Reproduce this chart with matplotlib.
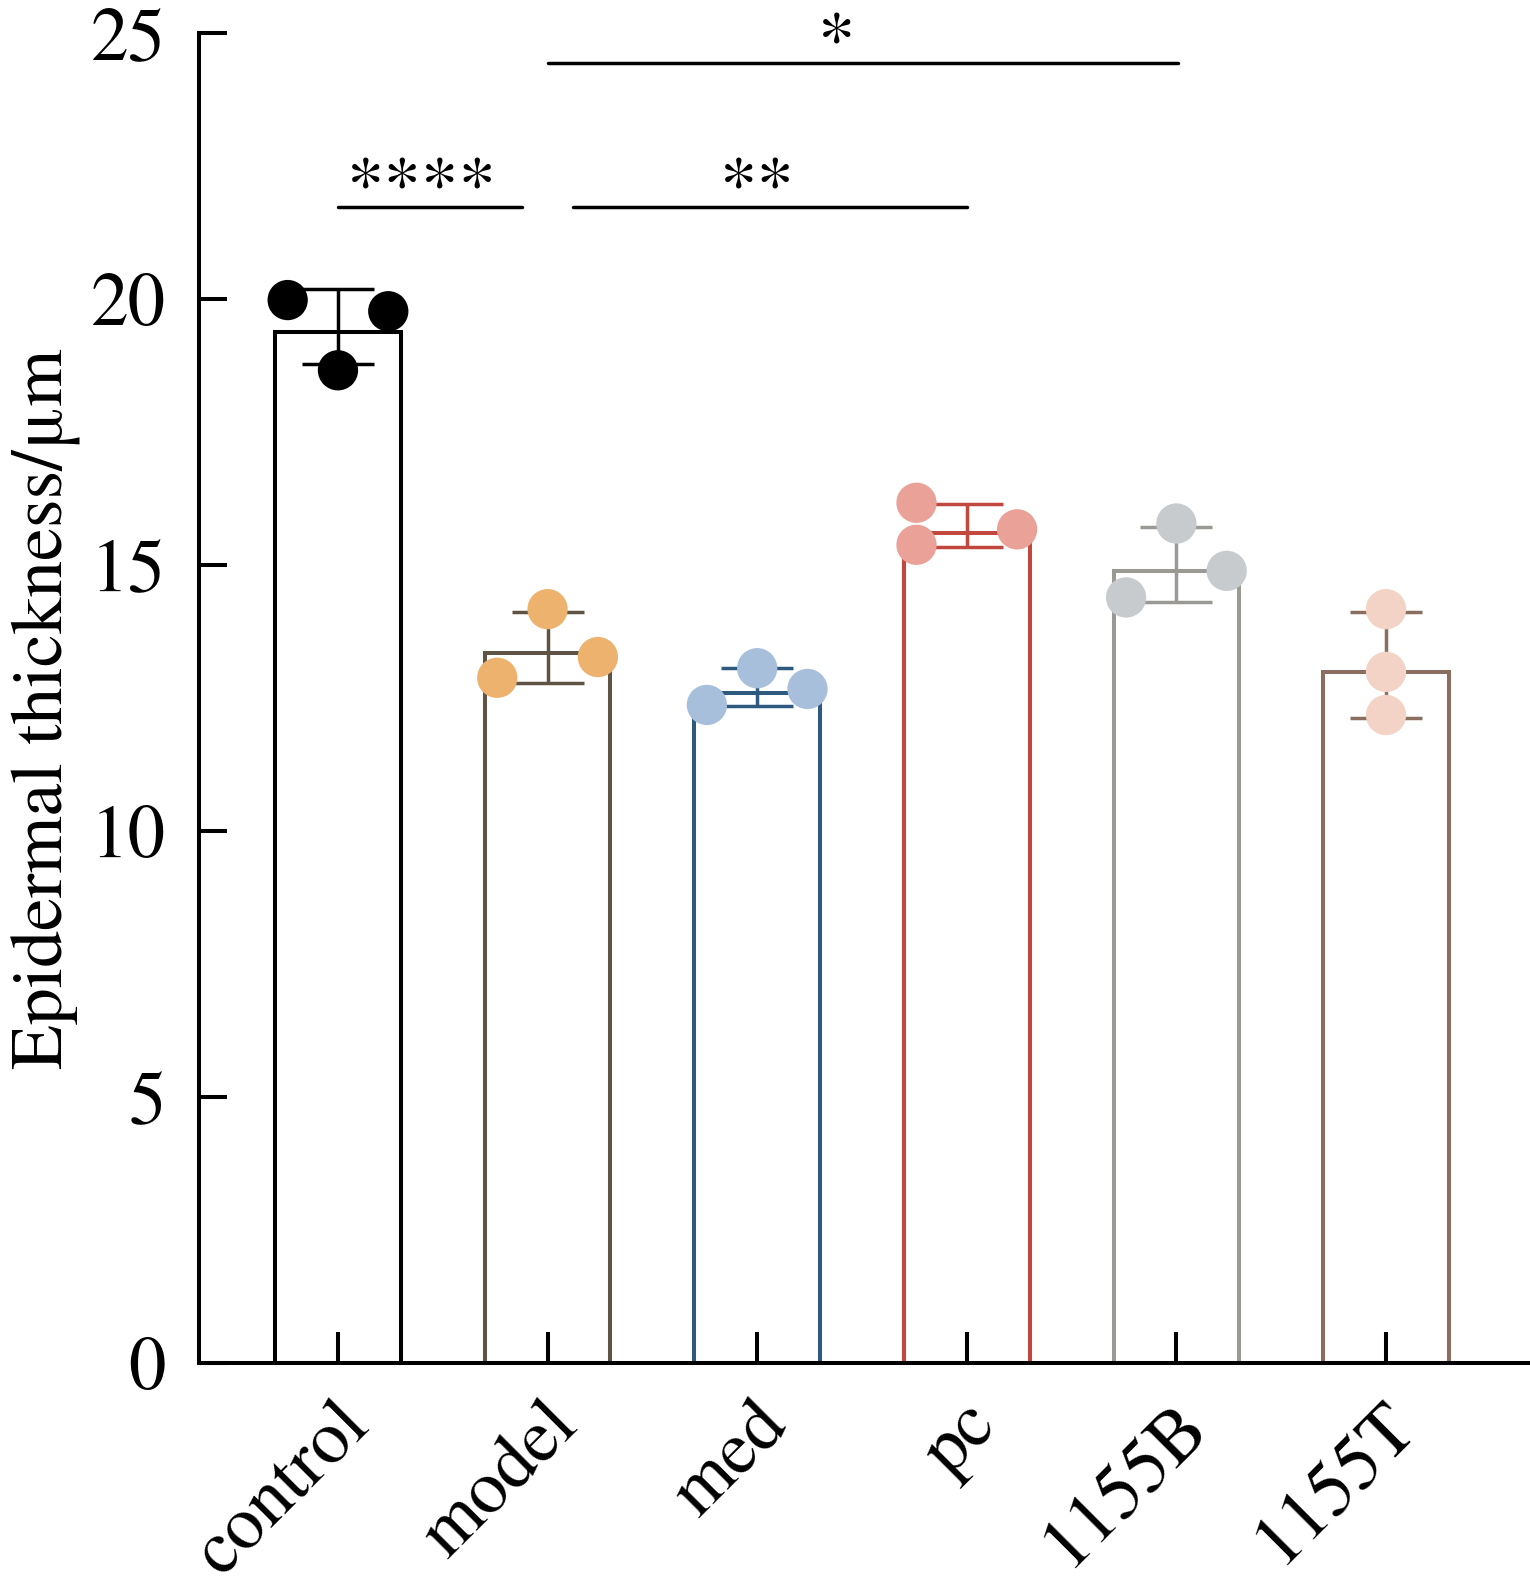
import matplotlib
matplotlib.use("Agg")
import matplotlib.pyplot as plt
from matplotlib.transforms import ScaledTranslation

plt.rcParams['font.family'] = ['TeX Gyre Termes', 'Liberation Serif', 'DejaVu Serif']

groups = ["control", "model", "med", "pc", "1155B", "1155T"]
means = [19.38, 13.35, 12.59, 15.61, 14.89, 12.98]
cap_top = [20.18, 14.12, 13.06, 16.15, 15.71, 14.11]
cap_bottom = [18.78, 12.78, 12.35, 15.34, 14.30, 12.12]
points = [
    [19.98, 18.66, 19.77],
    [12.88, 14.17, 13.27],
    [12.37, 13.06, 12.67],
    [16.17, 15.38, 15.67],
    [14.39, 15.78, 14.89],
    [14.17, 12.99, 12.18],
]
jitter = [
    [-0.24, 0, 0.24],
    [-0.24, 0, 0.24],
    [-0.24, 0, 0.24],
    [-0.24, -0.24, 0.24],
    [-0.24, 0, 0.24],
    [0, 0, 0],
]
edge_colors = ["#000000", "#5E5345", "#2E5A80", "#C2483F", "#9B9993", "#8A6E60"]
point_colors = ["#000000", "#EDB26D", "#A8BFDC", "#E9A198", "#C8CBCE", "#F2D3C5"]

# significance lines: (x start, x end, y, label, label x)
sig = [
    (0.0, 0.88, 21.73, "****", 0.40),
    (1.12, 3.0, 21.73, "**", 2.0),
    (1.0, 4.01, 24.44, "*", 2.38),
]

fig = plt.figure(figsize=(15.3, 15.94), dpi=100)
ax = fig.add_axes([199 / 1530, 1 - 1363 / 1594, 1331 / 1530, 1330 / 1594])

x = list(range(len(groups)))
lw = 2.9
for i in x:
    ax.bar(i, means[i], width=0.6, facecolor="white", edgecolor=edge_colors[i],
           linewidth=lw, zorder=1)
    lo = means[i] - cap_bottom[i]
    hi = cap_top[i] - means[i]
    ax.errorbar(i, means[i], yerr=[[lo], [hi]], fmt="none", ecolor=edge_colors[i],
                elinewidth=2.5, capsize=26, capthick=2.5, zorder=2)
    xs = [i + j for j in jitter[i]]
    ax.scatter(xs, points[i], s=29 ** 2, color=point_colors[i], edgecolors="none",
               zorder=3, clip_on=False)

for x0, x1, y, lab, lx in sig:
    ax.plot([x0, x1], [y, y], color="black", lw=2.5, solid_capstyle="round", clip_on=False)
    ax.text(lx, y - 0.04, lab, ha="center", va="baseline", fontsize=54)

ax.set_xlim(-0.663, 5.687)
ax.set_ylim(0, 25)
ax.set_yticks([0, 5, 10, 15, 20, 25])
ax.set_xticks(x)

for s in ["top", "right"]:
    ax.spines[s].set_visible(False)
ax.spines["left"].set_linewidth(lw)
ax.spines["bottom"].set_linewidth(lw)
ax.tick_params(axis="y", direction="in", length=20, width=lw, labelsize=54, pad=24)
ax.tick_params(axis="x", direction="in", length=22, width=lw, labelsize=54, pad=30)

ax.set_xticklabels(groups, rotation=45, ha="right", va="center", rotation_mode="anchor")
shift = ScaledTranslation(20 / 100, -10 / 100, fig.dpi_scale_trans)
for t in ax.get_xticklabels():
    t.set_transform(t.get_transform() + shift)

ax.set_ylabel("Epidermal thickness/μm", fontsize=53)
ax.yaxis.set_label_coords(-0.089, 0.492)

fig.savefig("out.png", dpi=100)
